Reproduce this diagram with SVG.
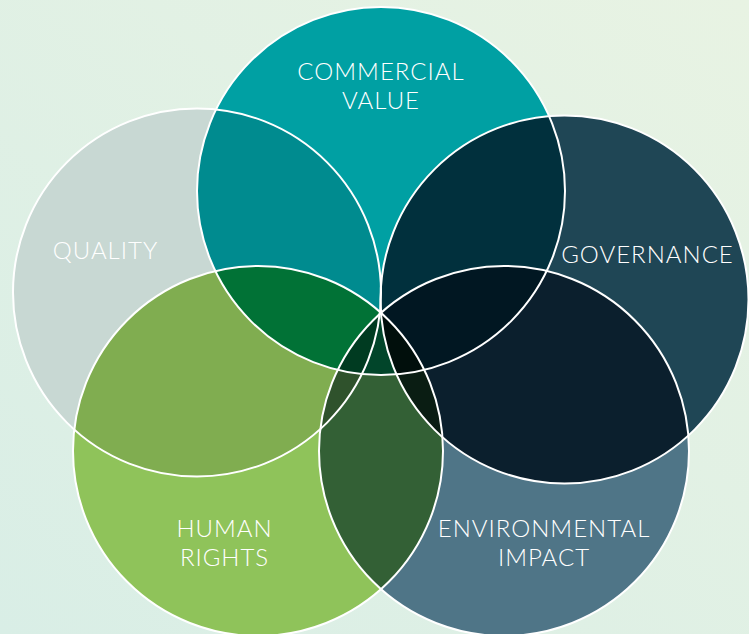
<svg xmlns="http://www.w3.org/2000/svg" width="749" height="634" viewBox="0 0 749 634">
  <defs>
    <linearGradient id="bg" x1="0" y1="1" x2="1" y2="0">
      <stop offset="0" stop-color="#d9eee6"/>
      <stop offset="1" stop-color="#e8f3e3"/>
    </linearGradient>
    <!-- one clip per circle, used to build the overlap regions -->
    <clipPath id="clip-q"><circle cx="197" cy="292.5" r="184"/></clipPath>
    <clipPath id="clip-c"><circle cx="381" cy="191" r="184"/></clipPath>
    <clipPath id="clip-g"><circle cx="564.5" cy="299.5" r="184"/></clipPath>
    <clipPath id="clip-h"><circle cx="258" cy="451" r="185"/></clipPath>
    <clipPath id="clip-e"><circle cx="504" cy="451" r="185"/></clipPath>
    <style>
      .label { font-family: Lato, "Open Sans", "Liberation Sans", sans-serif; font-weight: 300; font-size: 24px; letter-spacing: 1px; fill: #ffffff; text-anchor: middle; }
      .outline { fill: none; stroke: #ffffff; stroke-width: 2; }
    </style>
  </defs>

  <rect width="749" height="634" fill="url(#bg)"/>

  <!-- circles -->
  <g id="node-quality">
    <circle cx="197" cy="292.5" r="184" fill="#c8d8d3"/>
    <text class="label" x="105.5" y="259">QUALITY</text>
  </g>
  <g id="node-commercial-value">
    <circle cx="381" cy="191" r="184" fill="#00a0a3"/>
    <text class="label" x="381" y="79.5">COMMERCIAL</text>
    <text class="label" x="381" y="109">VALUE</text>
  </g>
  <g id="node-governance">
    <circle cx="564.5" cy="299.5" r="184" fill="#1f4655"/>
    <text class="label" x="647.5" y="263">GOVERNANCE</text>
  </g>
  <g id="node-human-rights">
    <circle cx="258" cy="451" r="185" fill="#8fc35a"/>
    <text class="label" x="224.5" y="537">HUMAN</text>
    <text class="label" x="224.5" y="566">RIGHTS</text>
  </g>
  <g id="node-environmental-impact">
    <circle cx="504" cy="451" r="185" fill="#4f7587"/>
    <text class="label" x="544" y="537">ENVIRONMENTAL</text>
    <text class="label" x="544" y="566">IMPACT</text>
  </g>

  <!-- overlap regions, painted from two-way up to four-way -->
  <g id="overlaps">
    <g clip-path="url(#clip-q)"><circle cx="381" cy="191" r="184" fill="#008b8f"/></g>
    <g clip-path="url(#clip-c)"><circle cx="564.5" cy="299.5" r="184" fill="#01303d"/></g>
    <g clip-path="url(#clip-g)"><circle cx="504" cy="451" r="185" fill="#0b1f2d"/></g>
    <g clip-path="url(#clip-e)"><circle cx="258" cy="451" r="185" fill="#336035"/></g>
    <g clip-path="url(#clip-h)"><circle cx="197" cy="292.5" r="184" fill="#80ad50"/></g>
    <g clip-path="url(#clip-c)"><circle cx="258" cy="451" r="185" fill="#017236"/></g>
    <g clip-path="url(#clip-c)"><circle cx="504" cy="451" r="185" fill="#011722"/></g>

    <g clip-path="url(#clip-q)"><g clip-path="url(#clip-c)"><circle cx="258" cy="451" r="185" fill="#017236"/></g></g>
    <g clip-path="url(#clip-c)"><g clip-path="url(#clip-g)"><circle cx="504" cy="451" r="185" fill="#011722"/></g></g>
    <g clip-path="url(#clip-q)"><g clip-path="url(#clip-h)"><circle cx="504" cy="451" r="185" fill="#2f522c"/></g></g>
    <g clip-path="url(#clip-g)"><g clip-path="url(#clip-h)"><circle cx="504" cy="451" r="185" fill="#0a1d13"/></g></g>
    <g clip-path="url(#clip-c)"><g clip-path="url(#clip-h)"><circle cx="504" cy="451" r="185" fill="#01452a"/></g></g>

    <g clip-path="url(#clip-q)"><g clip-path="url(#clip-c)"><g clip-path="url(#clip-h)"><circle cx="504" cy="451" r="185" fill="#003b21"/></g></g></g>
    <g clip-path="url(#clip-c)"><g clip-path="url(#clip-g)"><g clip-path="url(#clip-h)"><circle cx="504" cy="451" r="185" fill="#010f0c"/></g></g></g>
  </g>

  <!-- white outlines over every circle -->
  <g id="outlines">
    <circle class="outline" cx="197" cy="292.5" r="184"/>
    <circle class="outline" cx="381" cy="191" r="184"/>
    <circle class="outline" cx="564.5" cy="299.5" r="184"/>
    <circle class="outline" cx="258" cy="451" r="185"/>
    <circle class="outline" cx="504" cy="451" r="185"/>
  </g>
</svg>
